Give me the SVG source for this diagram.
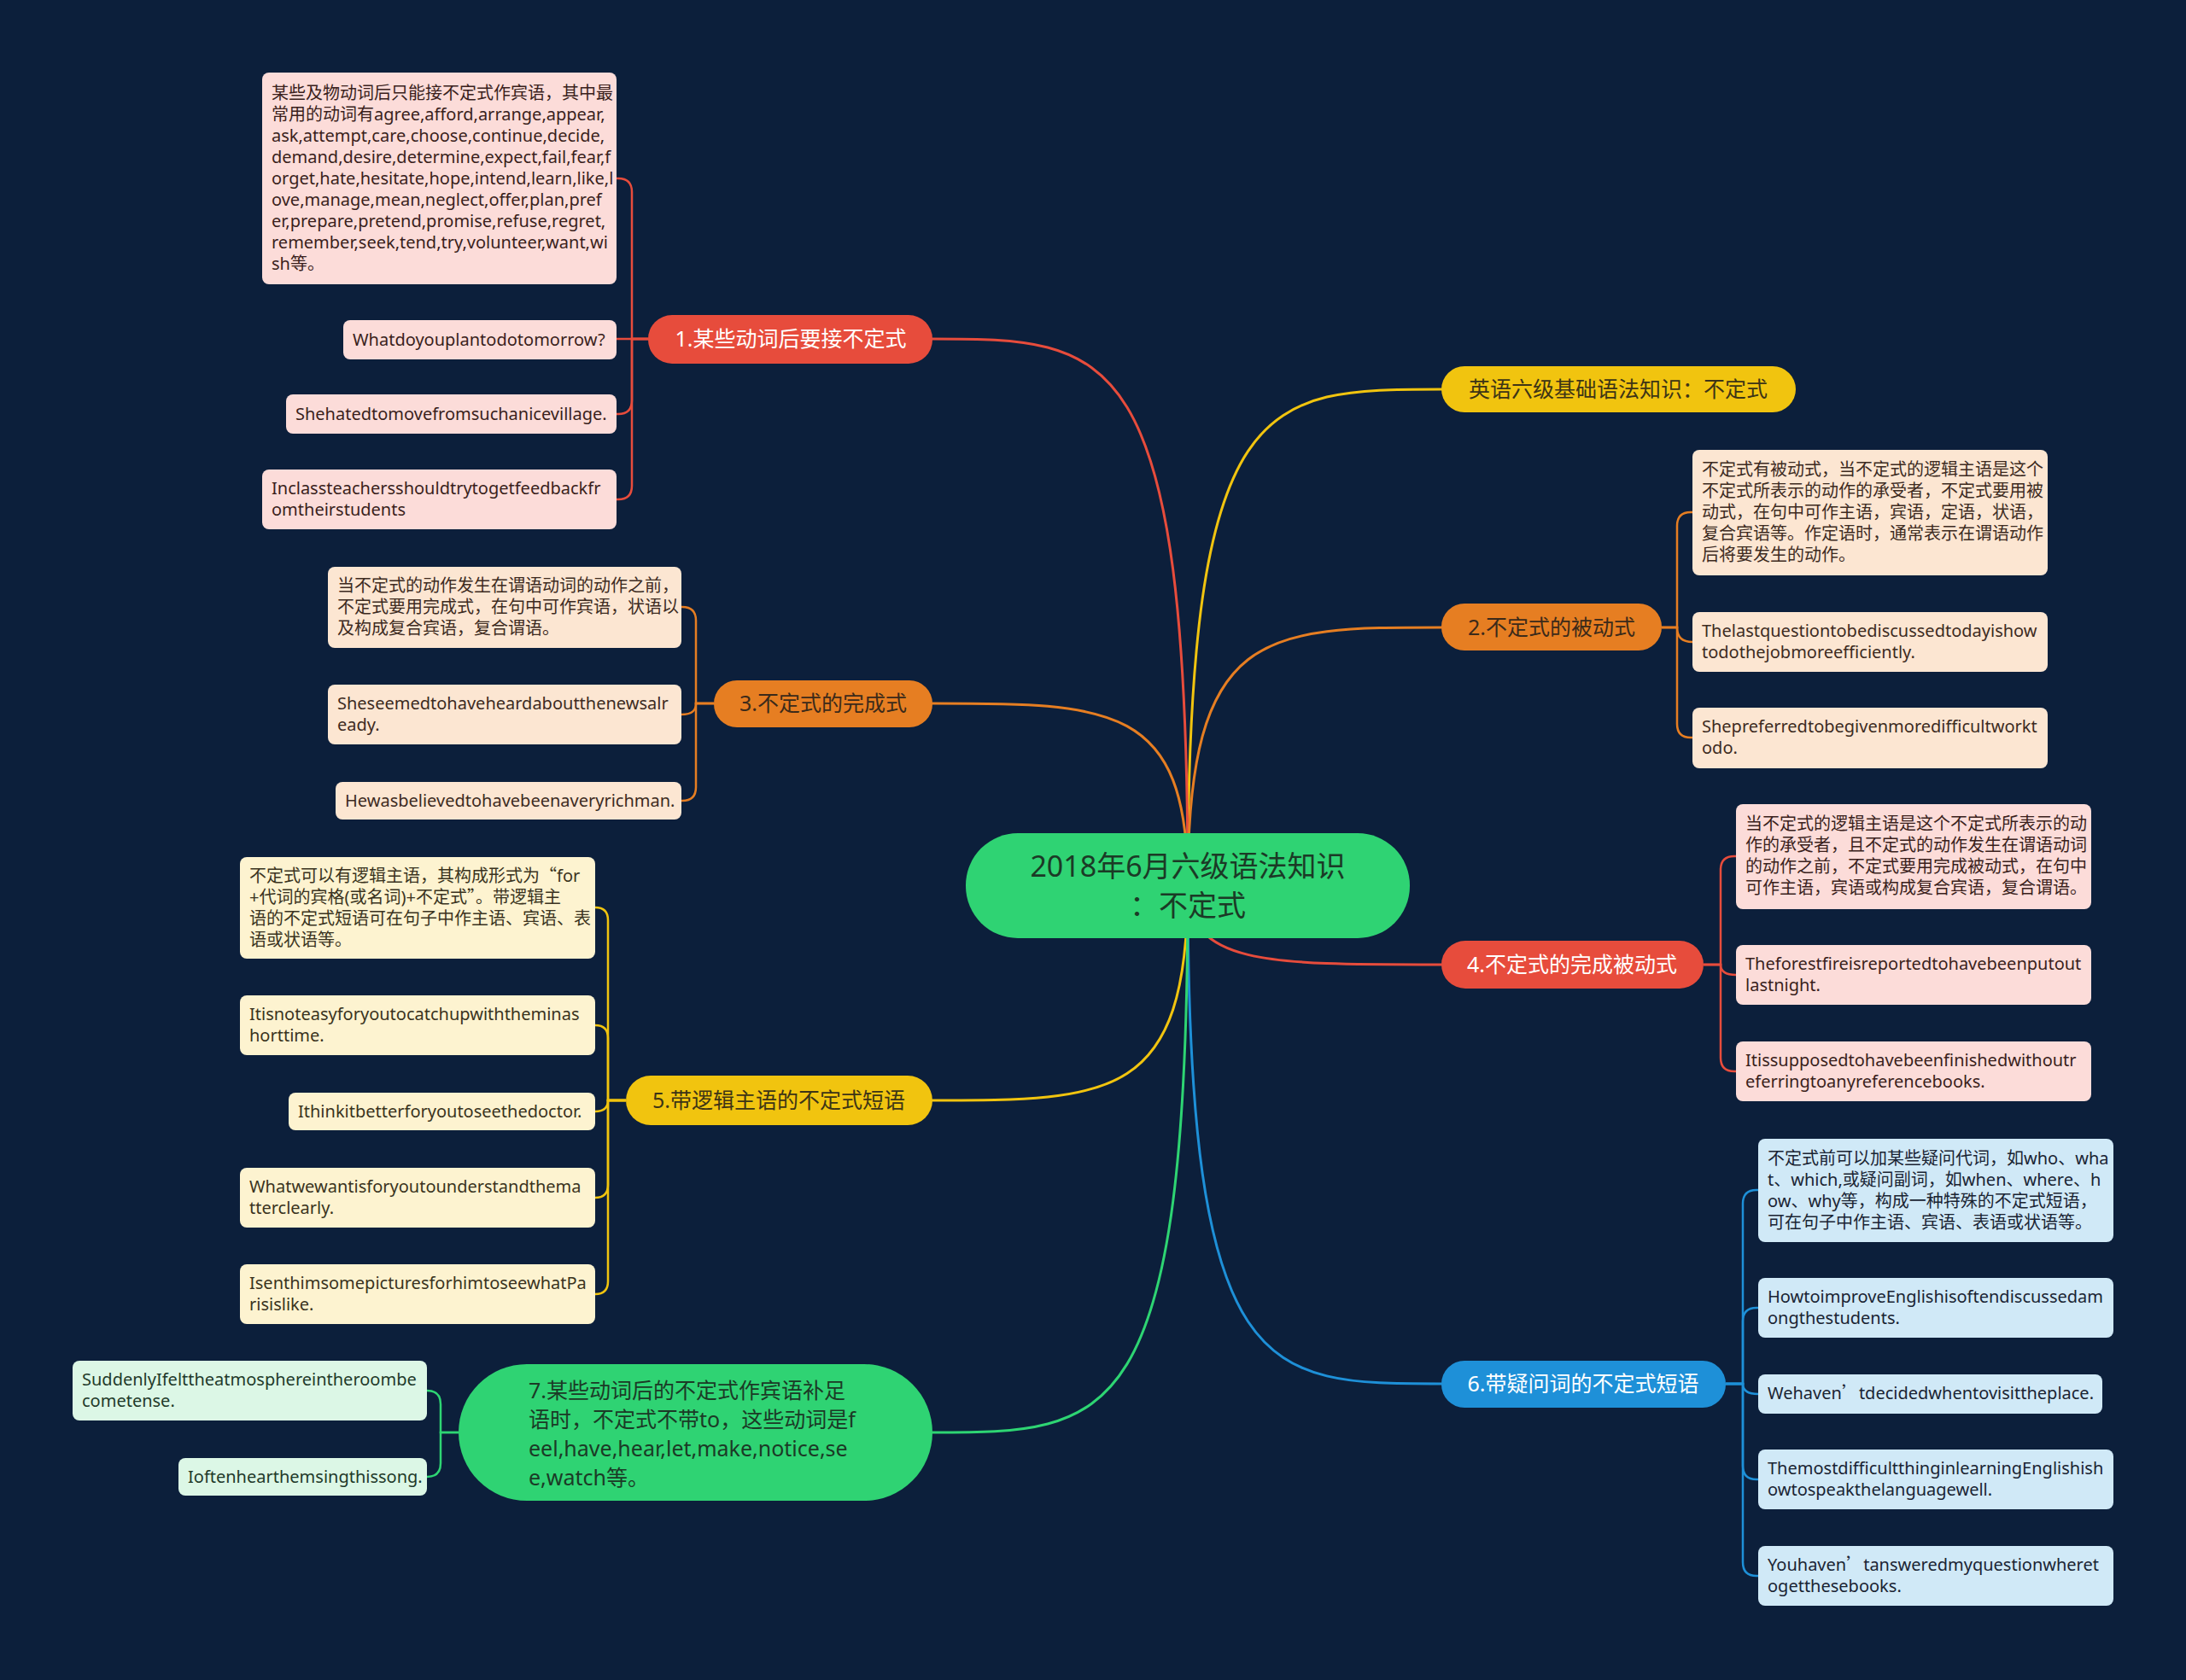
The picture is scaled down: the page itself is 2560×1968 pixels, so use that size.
<svg xmlns="http://www.w3.org/2000/svg" width="2560" height="1968" viewBox="0 0 2560 1968">
<style>
text{font-family:"Noto Sans","Noto Sans CJK SC",sans-serif;}
.q{font-family:"Noto Sans CJK SC",sans-serif;}
.leaf{font-size:20px;}
.main{font-size:25px;}
.c{stroke-width:3;fill:none;stroke-linecap:round;}
.lc{stroke-width:2.5;fill:none;}
.red{stroke:#e74c3c;} .org{stroke:#e67e22;} .yel{stroke:#f1c40f;} .grn{stroke:#2ed573;} .blu{stroke:#1e90d8;}
.fr{fill:#fcdcd9;} .fo{fill:#fce6d2;} .fy{fill:#fdf3d0;} .fg{fill:#dcf7e6;} .fb{fill:#d0e9f7;}
.tr{fill:#3a1f1c;} .to{fill:#3d2b1f;} .ty{fill:#3a3320;} .tg{fill:#1f3a2a;} .tb{fill:#1a2433;}
</style>
<rect width="2560" height="1968" fill="#0c1f3b"/>
<g id="connectors">
<path class="c yel" d="M1391,1037 C1391,456 1480,456 1688,456"/>
<path class="c red" d="M1391,1037 C1391,397 1301,397 1092,397"/>
<path class="c org" d="M1391,1037 C1391,735 1480,735 1688,735"/>
<path class="c org" d="M1391,1037 C1391,824 1301,824 1092,824"/>
<path class="c red" d="M1391,1037 C1391,1130 1480,1130 1688,1130"/>
<path class="c yel" d="M1391,1037 C1391,1289 1301,1289 1092,1289"/>
<path class="c blu" d="M1391,1037 C1391,1621 1480,1621 1688,1621"/>
<path class="c grn" d="M1391,1037 C1391,1678 1301,1678 1092,1678"/>
<g class="red lc">
<path d="M759,397 H740 V225 Q740,209 724,209 H722"/>
<path d="M759,397 H722"/>
<path d="M759,397 H740 V469 Q740,485 724,485 H722"/>
<path d="M759,397 H740 V569 Q740,585 724,585 H722"/>
</g>
<g class="org lc">
<path d="M836,824 H815 V727 Q815,711 799,711 H798"/>
<path d="M836,824 H815 C815,831 812,837 798,837"/>
<path d="M836,824 H815 V922 Q815,938 799,938 H798"/>
</g>
<g class="yel lc">
<path d="M733,1289 H712 V1078 Q712,1063 697,1063"/>
<path d="M733,1289 H712 V1216 Q712,1201 697,1201"/>
<path d="M733,1289 H712 C712,1296 709,1302 697,1302"/>
<path d="M733,1289 H712 V1388 Q712,1403 697,1403"/>
<path d="M733,1289 H712 V1501 Q712,1516 697,1516"/>
</g>
<g class="grn lc">
<path d="M537,1678 H516 V1645 Q516,1629 500,1629"/>
<path d="M537,1678 H516 V1714 Q516,1730 500,1730"/>
</g>
<g class="org lc">
<path d="M1946,735 H1964 V616 Q1964,600 1980,600 H1982"/>
<path d="M1946,735 H1964 C1964,744 1968,752 1982,752"/>
<path d="M1946,735 H1964 V848 Q1964,864 1980,864 H1982"/>
</g>
<g class="red lc">
<path d="M1995,1130 H2015 V1019 Q2015,1003 2031,1003 H2033"/>
<path d="M1995,1130 H2015 C2015,1136 2019,1142 2033,1142"/>
<path d="M1995,1130 H2015 V1239 Q2015,1255 2031,1255 H2033"/>
</g>
<g class="blu lc">
<path d="M2021,1621 H2041 V1410 Q2041,1394 2057,1394 H2059"/>
<path d="M2021,1621 H2041 V1548 Q2041,1532 2057,1532 H2059"/>
<path d="M2021,1621 H2041 C2041,1627 2045,1633 2059,1633"/>
<path d="M2021,1621 H2041 V1717 Q2041,1733 2057,1733 H2059"/>
<path d="M2021,1621 H2041 V1830 Q2041,1846 2057,1846 H2059"/>
</g>
</g>

<g id="center">
<rect x="1131" y="976" width="520" height="123" rx="61" fill="#2fd373"/>
<text x="1391" y="1027" font-size="34" text-anchor="middle" fill="#1b3a26">2018年6月六级语法知识</text>
<text x="1391" y="1073" font-size="34" text-anchor="middle" fill="#1b3a26">：不定式</text>
</g>

<g id="n0">
<rect x="1688" y="429" width="415" height="54" rx="27" fill="#f1c40f"/>
<text class="main" x="1895" y="465" text-anchor="middle" fill="#3d3416">英语六级基础语法知识：不定式</text>
</g>
<g id="n1">
<rect x="759" y="369" width="333" height="57" rx="28" fill="#e74c3c"/>
<text class="main" x="926" y="406" text-anchor="middle" fill="#ffffff">1.某些动词后要接不定式</text>
</g>
<g id="n2">
<rect x="1688" y="707" width="258" height="55" rx="27" fill="#e67e22"/>
<text class="main" x="1817" y="744" text-anchor="middle" fill="#3b2a1a">2.不定式的被动式</text>
</g>
<g id="n3">
<rect x="836" y="797" width="256" height="55" rx="27" fill="#e67e22"/>
<text class="main" x="964" y="833" text-anchor="middle" fill="#3b2a1a">3.不定式的完成式</text>
</g>
<g id="n4">
<rect x="1688" y="1102" width="307" height="56" rx="28" fill="#e74c3c"/>
<text class="main" x="1841" y="1139" text-anchor="middle" fill="#ffffff">4.不定式的完成被动式</text>
</g>
<g id="n5">
<rect x="733" y="1260" width="359" height="58" rx="29" fill="#f1c40f"/>
<text class="main" x="912" y="1298" text-anchor="middle" fill="#3d3416">5.带逻辑主语的不定式短语</text>
</g>
<g id="n6">
<rect x="1688" y="1594" width="333" height="55" rx="27" fill="#1e90d8"/>
<text class="main" x="1854" y="1630" text-anchor="middle" fill="#ffffff">6.带疑问词的不定式短语</text>
</g>
<g id="n7">
<rect x="537" y="1598" width="555" height="160" rx="80" fill="#2fd373"/>
<text class="main" fill="#1b3a26"><tspan x="619" y="1638">7.某些动词后的不定式作宾语补足</tspan><tspan x="619" y="1672">语时，不定式不带to，这些动词是f</tspan><tspan x="619" y="1706">eel,have,hear,let,make,notice,se</tspan><tspan x="619" y="1740">e,watch等。</tspan></text>
</g>

<g id="l1a"><rect class="fr" x="307" y="85" width="415" height="248" rx="8"/>
<text class="leaf tr"><tspan x="318" y="116">某些及物动词后只能接不定式作宾语，其中最</tspan><tspan x="318" y="141">常用的动词有agree,afford,arrange,appear,</tspan><tspan x="318" y="166">ask,attempt,care,choose,continue,decide,</tspan><tspan x="318" y="191">demand,desire,determine,expect,fail,fear,f</tspan><tspan x="318" y="216">orget,hate,hesitate,hope,intend,learn,like,l</tspan><tspan x="318" y="241">ove,manage,mean,neglect,offer,plan,pref</tspan><tspan x="318" y="266">er,prepare,pretend,promise,refuse,regret,</tspan><tspan x="318" y="291">remember,seek,tend,try,volunteer,want,wi</tspan><tspan x="318" y="316">sh等。</tspan></text></g>
<g id="l1b"><rect class="fr" x="402" y="375" width="320" height="46" rx="8"/>
<text class="leaf tr" x="413" y="405">Whatdoyouplantodotomorrow?</text></g>
<g id="l1c"><rect class="fr" x="335" y="462" width="387" height="46" rx="8"/>
<text class="leaf tr" x="346" y="492">Shehatedtomovefromsuchanicevillage.</text></g>
<g id="l1d"><rect class="fr" x="307" y="550" width="415" height="70" rx="8"/>
<text class="leaf tr"><tspan x="318" y="579">Inclassteachersshouldtrytogetfeedbackfr</tspan><tspan x="318" y="604">omtheirstudents</tspan></text></g>

<g id="l3a"><rect class="fo" x="384" y="664" width="414" height="95" rx="8"/>
<text class="leaf to"><tspan x="395" y="693">当不定式的动作发生在谓语动词的动作之前，</tspan><tspan x="395" y="718">不定式要用完成式，在句中可作宾语，状语以</tspan><tspan x="395" y="743">及构成复合宾语，复合谓语。</tspan></text></g>
<g id="l3b"><rect class="fo" x="384" y="802" width="414" height="70" rx="8"/>
<text class="leaf to"><tspan x="395" y="831">Sheseemedtohaveheardaboutthenewsalr</tspan><tspan x="395" y="856">eady.</tspan></text></g>
<g id="l3c"><rect class="fo" x="393" y="916" width="405" height="44" rx="8"/>
<text class="leaf to" x="404" y="945">Hewasbelievedtohavebeenaveryrichman.</text></g>

<g id="l5a"><rect class="fy" x="281" y="1004" width="416" height="119" rx="8"/>
<text class="leaf ty"><tspan x="292" y="1033">不定式可以有逻辑主语，其构成形式为<tspan class="q">“</tspan>for</tspan><tspan x="292" y="1058">+代词的宾格(或名词)+不定式<tspan class="q">”</tspan>。带逻辑主</tspan><tspan x="292" y="1083">语的不定式短语可在句子中作主语、宾语、表</tspan><tspan x="292" y="1108">语或状语等。</tspan></text></g>
<g id="l5b"><rect class="fy" x="281" y="1166" width="416" height="70" rx="8"/>
<text class="leaf ty"><tspan x="292" y="1195">Itisnoteasyforyoutocatchupwiththeminas</tspan><tspan x="292" y="1220">horttime.</tspan></text></g>
<g id="l5c"><rect class="fy" x="338" y="1280" width="359" height="44" rx="8"/>
<text class="leaf ty" x="349" y="1309">Ithinkitbetterforyoutoseethedoctor.</text></g>
<g id="l5d"><rect class="fy" x="281" y="1368" width="416" height="70" rx="8"/>
<text class="leaf ty"><tspan x="292" y="1397">Whatwewantisforyoutounderstandthema</tspan><tspan x="292" y="1422">tterclearly.</tspan></text></g>
<g id="l5e"><rect class="fy" x="281" y="1481" width="416" height="70" rx="8"/>
<text class="leaf ty"><tspan x="292" y="1510">IsenthimsomepicturesforhimtoseewhatPa</tspan><tspan x="292" y="1535">risislike.</tspan></text></g>

<g id="l7a"><rect class="fg" x="85" y="1594" width="415" height="70" rx="8"/>
<text class="leaf tg"><tspan x="96" y="1623">SuddenlyIfelttheatmosphereintheroombe</tspan><tspan x="96" y="1648">cometense.</tspan></text></g>
<g id="l7b"><rect class="fg" x="209" y="1708" width="291" height="44" rx="8"/>
<text class="leaf tg" x="220" y="1737">Ioftenhearthemsingthissong.</text></g>

<g id="r2a"><rect class="fo" x="1982" y="527" width="416" height="147" rx="8"/>
<text class="leaf to"><tspan x="1993" y="557">不定式有被动式，当不定式的逻辑主语是这个</tspan><tspan x="1993" y="582">不定式所表示的动作的承受者，不定式要用被</tspan><tspan x="1993" y="607">动式，在句中可作主语，宾语，定语，状语，</tspan><tspan x="1993" y="632">复合宾语等。作定语时，通常表示在谓语动作</tspan><tspan x="1993" y="657">后将要发生的动作。</tspan></text></g>
<g id="r2b"><rect class="fo" x="1982" y="717" width="416" height="70" rx="8"/>
<text class="leaf to"><tspan x="1993" y="746">Thelastquestiontobediscussedtodayishow</tspan><tspan x="1993" y="771">todothejobmoreefficiently.</tspan></text></g>
<g id="r2c"><rect class="fo" x="1982" y="829" width="416" height="71" rx="8"/>
<text class="leaf to"><tspan x="1993" y="858">Shepreferredtobegivenmoredifficultworkt</tspan><tspan x="1993" y="883">odo.</tspan></text></g>

<g id="r4a"><rect class="fr" x="2033" y="942" width="416" height="123" rx="8"/>
<text class="leaf tr"><tspan x="2044" y="972">当不定式的逻辑主语是这个不定式所表示的动</tspan><tspan x="2044" y="997">作的承受者，且不定式的动作发生在谓语动词</tspan><tspan x="2044" y="1022">的动作之前，不定式要用完成被动式，在句中</tspan><tspan x="2044" y="1047">可作主语，宾语或构成复合宾语，复合谓语。</tspan></text></g>
<g id="r4b"><rect class="fr" x="2033" y="1107" width="416" height="70" rx="8"/>
<text class="leaf tr"><tspan x="2044" y="1136">Theforestfireisreportedtohavebeenputout</tspan><tspan x="2044" y="1161">lastnight.</tspan></text></g>
<g id="r4c"><rect class="fr" x="2033" y="1220" width="416" height="70" rx="8"/>
<text class="leaf tr"><tspan x="2044" y="1249">Itissupposedtohavebeenfinishedwithoutr</tspan><tspan x="2044" y="1274">eferringtoanyreferencebooks.</tspan></text></g>

<g id="r6a"><rect class="fb" x="2059" y="1334" width="416" height="121" rx="8"/>
<text class="leaf tb"><tspan x="2070" y="1364">不定式前可以加某些疑问代词，如who、wha</tspan><tspan x="2070" y="1389">t、which,或疑问副词，如when、where、h</tspan><tspan x="2070" y="1414">ow、why等，构成一种特殊的不定式短语，</tspan><tspan x="2070" y="1439">可在句子中作主语、宾语、表语或状语等。</tspan></text></g>
<g id="r6b"><rect class="fb" x="2059" y="1497" width="416" height="70" rx="8"/>
<text class="leaf tb"><tspan x="2070" y="1526">HowtoimproveEnglishisoftendiscussedam</tspan><tspan x="2070" y="1551">ongthestudents.</tspan></text></g>
<g id="r6c"><rect class="fb" x="2059" y="1610" width="403" height="46" rx="8"/>
<text class="leaf tb" x="2070" y="1639">Wehaven<tspan class="q">’</tspan>tdecidedwhentovisittheplace.</text></g>
<g id="r6d"><rect class="fb" x="2059" y="1698" width="416" height="70" rx="8"/>
<text class="leaf tb"><tspan x="2070" y="1727">ThemostdifficultthinginlearningEnglishish</tspan><tspan x="2070" y="1752">owtospeakthelanguagewell.</tspan></text></g>
<g id="r6e"><rect class="fb" x="2059" y="1811" width="416" height="70" rx="8"/>
<text class="leaf tb"><tspan x="2070" y="1840">Youhaven<tspan class="q">’</tspan>tansweredmyquestionwheret</tspan><tspan x="2070" y="1865">ogetthesebooks.</tspan></text></g>
</svg>
